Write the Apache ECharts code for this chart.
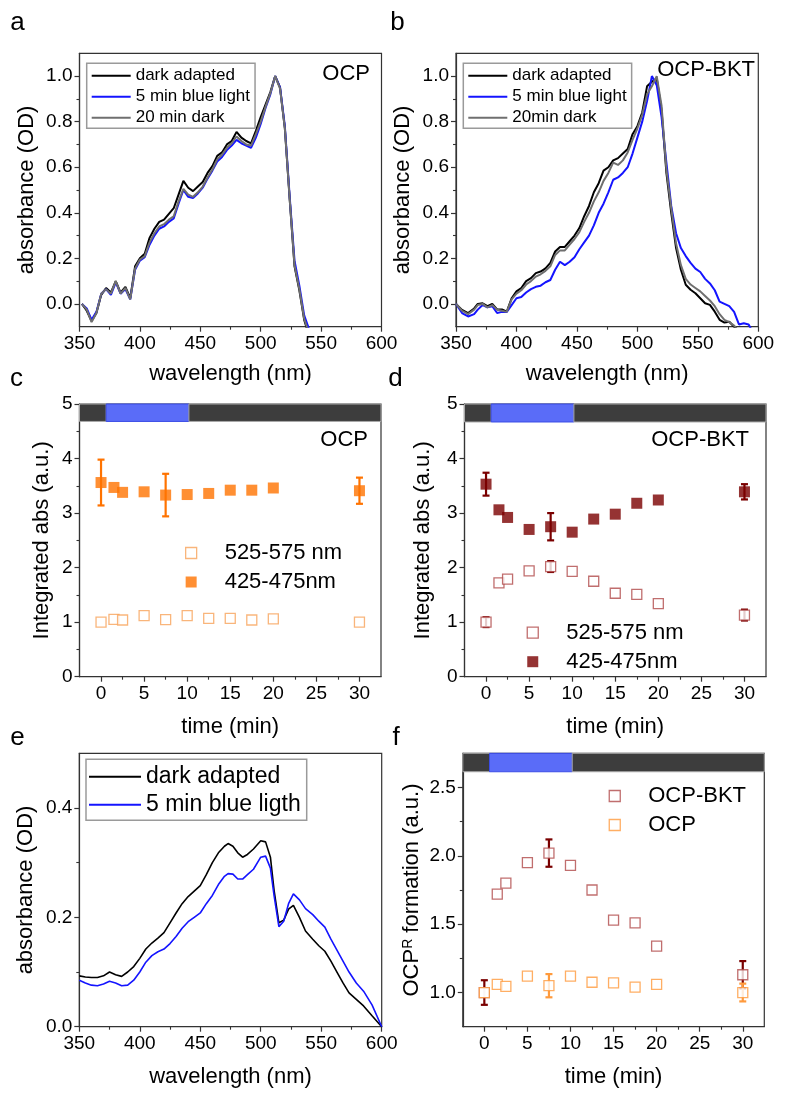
<!DOCTYPE html>
<html><head><meta charset="utf-8">
<script src="https://cdn.jsdelivr.net/npm/echarts@6.0.0/dist/echarts.min.js"></script>
<style>html,body{margin:0;padding:0;background:#fff}#chart{width:800px;height:1102px}</style>
</head><body><div id="chart"></div><script>
// ---------- DATA ----------
// panel a (OCP spectra)
const wlA = [352,356,360,364,368,372,376,380,384,388,392,396,400,404,408,412,416,420,424,428,432,436,440,444,448,452,456,460,464,468,472,476,480,484,488,492,496,500,504,508,512,516,520,524,528,532,536,540];
const aDark = [0.00,-0.03,-0.075,-0.04,0.04,0.07,0.05,0.10,0.05,0.075,0.025,0.165,0.20,0.22,0.29,0.33,0.36,0.37,0.395,0.42,0.48,0.54,0.51,0.495,0.515,0.535,0.575,0.605,0.65,0.665,0.70,0.715,0.755,0.73,0.715,0.705,0.76,0.82,0.875,0.93,1.00,0.95,0.77,0.46,0.165,0.06,-0.07,-0.14];
const aBlue = [0.00,-0.02,-0.07,-0.035,0.045,0.065,0.04,0.095,0.045,0.065,0.02,0.15,0.19,0.205,0.26,0.30,0.33,0.34,0.36,0.375,0.44,0.50,0.47,0.465,0.485,0.51,0.55,0.585,0.625,0.645,0.675,0.695,0.72,0.705,0.695,0.685,0.73,0.79,0.86,0.92,1.00,0.95,0.78,0.47,0.19,0.08,-0.05,-0.11];
const aGray = [0.00,-0.025,-0.08,-0.04,0.045,0.065,0.045,0.10,0.045,0.07,0.02,0.155,0.195,0.21,0.27,0.31,0.34,0.35,0.37,0.385,0.45,0.505,0.48,0.47,0.49,0.515,0.555,0.59,0.635,0.655,0.685,0.705,0.735,0.715,0.70,0.695,0.745,0.80,0.865,0.925,1.00,0.945,0.77,0.46,0.17,0.065,-0.065,-0.13];
// panel b (OCP-BKT spectra)
const wlB = [350,355,360,365,368,372,376,380,384,388,392,396,400,404,408,412,416,420,424,428,432,436,440,444,448,452,456,460,464,468,472,476,480,484,488,492,496,500,504,508,512,516,520,524,528,532,536,540,544,548,552,556,560,564,568,572,576,580,584,588,592,596];
const bDark = [0.0,-0.026,-0.04,-0.02,0.0,0.003,-0.01,0.0,-0.024,-0.024,-0.034,0.025,0.055,0.07,0.10,0.113,0.135,0.142,0.156,0.18,0.23,0.25,0.25,0.275,0.30,0.333,0.385,0.43,0.49,0.53,0.585,0.60,0.63,0.64,0.66,0.68,0.745,0.78,0.84,0.955,0.975,0.99,0.85,0.575,0.40,0.245,0.15,0.084,0.062,0.047,0.025,0.003,-0.004,-0.034,-0.07,-0.082,-0.078,-0.10,-0.12,-0.14,-0.15,-0.16];
const bBlue = [0.0,-0.04,-0.055,-0.045,-0.025,-0.005,-0.015,-0.01,-0.04,-0.035,-0.035,-0.005,0.025,0.03,0.05,0.065,0.075,0.08,0.095,0.105,0.15,0.185,0.17,0.185,0.205,0.24,0.27,0.30,0.345,0.40,0.44,0.49,0.545,0.555,0.575,0.60,0.66,0.73,0.80,0.89,1.0,0.96,0.82,0.62,0.43,0.31,0.245,0.21,0.18,0.155,0.14,0.11,0.09,0.06,0.01,0.0,-0.01,-0.035,-0.09,-0.085,-0.09,-0.13];
const bGray = [0.0,-0.03,-0.045,-0.025,-0.005,0.0,-0.015,-0.005,-0.025,-0.03,-0.035,0.02,0.045,0.06,0.085,0.10,0.12,0.13,0.145,0.165,0.215,0.235,0.235,0.26,0.285,0.315,0.36,0.40,0.45,0.49,0.54,0.575,0.62,0.61,0.63,0.665,0.72,0.77,0.83,0.92,0.955,1.0,0.87,0.59,0.42,0.265,0.17,0.11,0.085,0.07,0.055,0.035,0.015,-0.01,-0.045,-0.07,-0.08,-0.095,-0.12,-0.14,-0.15,-0.16];
// panels c, d, f (time courses)
const times = [0,1.5,2.5,5,7.5,10,12.5,15,17.5,20,30];
const blueLight = [0.6, 10.2];
const cOpen = [1.0,1.05,1.04,1.12,1.045,1.12,1.07,1.07,1.04,1.06,1.0];
const cFilled = [3.56,3.47,3.38,3.39,3.33,3.34,3.36,3.42,3.42,3.46,3.41];
const cFilledErr = [0.42,null,null,null,0.39,null,null,null,null,null,0.24];
const dOpen = [1.0,1.72,1.79,1.94,2.02,1.93,1.75,1.53,1.51,1.34,1.13];
const dOpenErr = [0.09,null,null,null,0.10,null,null,null,null,null,0.10];
const dFilled = [3.53,3.06,2.92,2.70,2.75,2.65,2.89,2.98,3.18,3.24,3.39];
const dFilledErr = [0.21,null,null,null,0.25,null,null,null,null,null,0.14];
const fBkt = [1.0,1.72,1.80,1.95,2.02,1.93,1.75,1.53,1.51,1.34,1.13];
const fBktErr = [0.09,null,null,null,0.10,null,null,null,null,null,0.10];
const fOcp = [1.0,1.06,1.045,1.12,1.05,1.12,1.075,1.07,1.04,1.06,1.0];
const fOcpErr = [null,null,null,null,0.085,null,null,null,null,null,0.065];
// panel e (difference spectra)
const wlE = [350,355,360,365,370,375,380,385,390,395,400,405,410,415,420,425,430,435,440,445,450,455,460,465,470,473,477,481,485,489,494,500,504,508,511,515,519,523,527,532,537,543,548,553,558,563,568,573,579,585,592,600];
const eDark = [0.093,0.091,0.09,0.09,0.093,0.10,0.095,0.092,0.10,0.11,0.125,0.142,0.153,0.162,0.172,0.19,0.208,0.225,0.238,0.248,0.258,0.278,0.30,0.318,0.33,0.335,0.33,0.318,0.31,0.315,0.325,0.34,0.338,0.31,0.25,0.19,0.195,0.215,0.222,0.20,0.175,0.16,0.148,0.138,0.12,0.10,0.08,0.062,0.05,0.038,0.02,0.0];
const eBlue = [0.085,0.08,0.076,0.075,0.078,0.083,0.08,0.075,0.076,0.085,0.10,0.118,0.13,0.137,0.142,0.152,0.165,0.18,0.192,0.20,0.208,0.225,0.24,0.26,0.275,0.28,0.279,0.27,0.27,0.278,0.288,0.31,0.312,0.29,0.24,0.183,0.193,0.225,0.243,0.232,0.216,0.205,0.193,0.182,0.16,0.14,0.12,0.10,0.08,0.065,0.04,0.0];
// tick labels
const wlTicks = [350,400,450,500,550,600];
const wlMinor = [375,425,475,525,575];
const absTicks = [0,0.2,0.4,0.6,0.8,1.0];
const absMinor = [0.1,0.3,0.5,0.7,0.9];
const timeTicks = [0,5,10,15,20,25,30];
const timeMinor = [2.5,7.5,12.5,17.5,22.5,27.5];
const intTicks = [0,1,2,3,4,5];
const intMinor = [0.5,1.5,2.5,3.5,4.5];
const absETicks = [0,0.2,0.4];
const absEMinor = [0.1,0.3];
const fTicks = [1.0,1.5,2.0,2.5];
const fMinor = [1.25,1.75,2.25];

// ---------- STYLE / LAYOUT ----------
const FONT = '"Liberation Sans", Arial, Helvetica, sans-serif';
const AX = '#333';
const C = {black:'#000000', blue:'#1414ff', gray:'#6f6f6f', orange:'#ff7300', orangeOpen:'#f8a25a', fOrange:'#ff9a3c',
           dred:'#7a0000', redOpen:'#b04a4a', stripDark:'#3d3d3d', stripBlue:'#5a6cf8'};
const grids = [
  {left:79.5, top:53.3, width:302, height:273.4},
  {left:456, top:53.3, width:302.3, height:273.4},
  {left:79.5, top:404, width:301.5, height:272.7},
  {left:464.5, top:404, width:301.5, height:272.7},
  {left:79.3, top:753.3, width:302.4, height:273.4},
  {left:462.8, top:753.3, width:301.5, height:273.4}
].map(g => Object.assign({show:true, borderColor:AX, borderWidth:1.2, backgroundColor:'transparent'}, g));

const xAxes = [], yAxes = [];
const f1 = v => v.toFixed(1);
const f0 = v => String(Math.round(v));
function mainAxis(dim, gi, c) {
  return {type:'value', gridIndex:gi, position: dim === 'x' ? 'bottom' : 'left', min:c.min, max:c.max,
    name:c.name, nameLocation:'middle', nameGap:c.gap,
    nameTextStyle:{fontSize:22, fontFamily:FONT, color:'#000', rich:c.rich},
    axisLine:{show:true, onZero:false, lineStyle:{color:AX, width:1.2}},
    axisTick:{show:true, inside:false, length:5, customValues:c.ticks, lineStyle:{color:AX, width:1.2}},
    axisLabel:{show:true, customValues:c.ticks, formatter:c.fmt, fontSize:19, fontFamily:FONT, color:'#000', margin: dim === 'x' ? 8 : 7},
    splitLine:{show:false}, minorTick:{show:false}};
}
function minorAxis(dim, gi, c) {
  return {type:'value', gridIndex:gi, position: dim === 'x' ? 'bottom' : 'left', min:c.min, max:c.max,
    axisLine:{show:false, onZero:false},
    axisTick:{show:true, inside:false, length:3, customValues:c.minor, lineStyle:{color:AX, width:1.1}},
    axisLabel:{show:false}, splitLine:{show:false}};
}
function addAxes(gi, xc, yc) {
  const xi = xAxes.length, yi = yAxes.length;
  xAxes.push(mainAxis('x', gi, xc), minorAxis('x', gi, xc));
  yAxes.push(mainAxis('y', gi, yc), minorAxis('y', gi, yc));
  return [xi, yi];
}
const wlX = gap => ({min:350, max:600, ticks:wlTicks, minor:wlMinor, fmt:f0, name:'wavelength (nm)', gap:gap});
const tX = {min:-2.5, max:32.5, ticks:timeTicks, minor:timeMinor, fmt:f0, name:'time (min)', gap:39};
const ax = [
  addAxes(0, wlX(36), {min:-0.1, max:1.1, ticks:absTicks, minor:absMinor, fmt:f1, name:'absorbance (OD)', gap:42}),
  addAxes(1, wlX(36), {min:-0.1, max:1.1, ticks:absTicks, minor:absMinor, fmt:f1, name:'absorbance (OD)', gap:42}),
  addAxes(2, tX, {min:0, max:5, ticks:intTicks, minor:intMinor, fmt:f0, name:'Integrated abs (a.u.)', gap:27}),
  addAxes(3, tX, {min:0, max:5, ticks:intTicks, minor:intMinor, fmt:f0, name:'Integrated abs (a.u.)', gap:31}),
  addAxes(4, wlX(39), {min:0, max:0.5, ticks:absETicks, minor:absEMinor, fmt:f1, name:'absorbance (OD)', gap:42}),
  addAxes(5, tX, {min:0.75, max:2.75, ticks:fTicks, minor:fMinor, fmt:f1,
    name:'{n|OCP}{s|R}{n| formation (a.u.)}', gap:40,
    rich:{n:{fontSize:22, fontFamily:FONT, color:'#000'}, s:{fontSize:14, fontFamily:FONT, color:'#000', verticalAlign:'top', padding:[0,0,8,0]}}})
];

const series = [];
function lineS(p, name, xs, ys, color, w) {
  series.push({type:'line', name:name, xAxisIndex:ax[p][0], yAxisIndex:ax[p][1], symbol:'none', silent:true,
    data: xs.map((x, i) => [x, ys[i]]), lineStyle:{color:color, width:w}, itemStyle:{color:color}, clip:true, z:2});
}
function scatterS(p, name, ys, color, open) {
  series.push({type:'scatter', name:name, xAxisIndex:ax[p][0], yAxisIndex:ax[p][1], symbol:'rect', silent:true,
    symbolSize: open ? 10 : 11, z:4,
    data: times.map((t, i) => [t, ys[i]]),
    itemStyle: open ? {color:'#fff', borderColor:color, borderWidth:1.3} : {color:color}});
}
function errS(p, ys, errs, color) {
  const d = [];
  times.forEach((t, i) => { if (errs[i] != null) d.push([t, ys[i], errs[i]]); });
  series.push({type:'custom', xAxisIndex:ax[p][0], yAxisIndex:ax[p][1], silent:true, z:3, data:d,
    renderItem: (params, api) => {
      const x = api.value(0), y = api.value(1), e = api.value(2);
      const top = api.coord([x, y + e]), bot = api.coord([x, y - e]);
      const w = 3.5, st = {stroke:color, lineWidth:2.2};
      return {type:'group', children:[
        {type:'line', shape:{x1:top[0], y1:top[1], x2:bot[0], y2:bot[1]}, style:st},
        {type:'line', shape:{x1:top[0]-w, y1:top[1], x2:top[0]+w, y2:top[1]}, style:st},
        {type:'line', shape:{x1:bot[0]-w, y1:bot[1], x2:bot[0]+w, y2:bot[1]}, style:st}]};
    }});
}
function stripS(p, xmin, xmax, y0, y1) {
  const segs = [[xmin, blueLight[0], 0], [blueLight[0], blueLight[1], 1], [blueLight[1], xmax, 0]];
  series.push({type:'custom', xAxisIndex:ax[p][0], yAxisIndex:ax[p][1], silent:true, z:1, data:segs,
    renderItem: (params, api) => {
      const a = api.coord([api.value(0), y1]), b = api.coord([api.value(1), y0]);
      const isBlue = api.value(2) === 1;
      return {type:'rect', shape:{x:a[0], y:a[1], width:b[0]-a[0], height:b[1]-a[1]},
        style:{fill: isBlue ? C.stripBlue : C.stripDark, stroke: isBlue ? '#3b4ce6' : '#a9a9a9', lineWidth:1}};
    }});
}

// a
lineS(0, 'a|dark adapted', wlA, aDark, C.black, 2);
lineS(0, 'a|5 min blue light', wlA, aBlue, C.blue, 2);
lineS(0, 'a|20 min dark', wlA, aGray, C.gray, 2);
// b
lineS(1, 'b|dark adapted', wlB, bDark, C.black, 2);
lineS(1, 'b|5 min blue light', wlB, bBlue, C.blue, 2);
lineS(1, 'b|20min dark', wlB, bGray, C.gray, 2);
// c
stripS(2, -2.5, 32.5, 4.68, 5);
errS(2, cFilled, cFilledErr, C.orange);
scatterS(2, 'c|525-575 nm', cOpen, C.orangeOpen, true);
scatterS(2, 'c|425-475nm', cFilled, C.orange, false);
// d
stripS(3, -2.5, 32.5, 4.67, 5);
errS(3, dFilled, dFilledErr, C.dred);
errS(3, dOpen, dOpenErr, C.dred);
scatterS(3, 'd|525-575 nm', dOpen, C.redOpen, true);
scatterS(3, 'd|425-475nm', dFilled, C.dred, false);
// e
lineS(4, 'e|dark adapted', wlE, eDark, C.black, 1.6);
lineS(4, 'e|5 min blue ligth', wlE, eBlue, C.blue, 1.6);
// f
stripS(5, -2.5, 32.5, 2.615, 2.75);
errS(5, fBkt, fBktErr, C.dred);
errS(5, fOcp, fOcpErr, C.fOrange);
scatterS(5, 'f|OCP-BKT', fBkt, C.redOpen, true);
scatterS(5, 'f|OCP', fOcp, C.fOrange, true);

const fmtName = n => n.split('|')[1];
const SQ = 'path://M0,0L10,0L10,10L0,10Z';
function lineLegend(left, top, names, w, gap, pad, fs) {
  return {show:true, left:left, top:top, orient:'vertical', selectedMode:false, data:names, formatter:fmtName,
    icon:'rect', itemWidth:w, itemHeight:2, itemGap:gap, padding:pad, borderColor:'#9a9a9a', borderWidth:1.5,
    textStyle:{fontFamily:FONT, color:'#000', fontSize:fs}};
}
function symLegend(left, top, names) {
  return {show:true, left:left, top:top, orient:'vertical', selectedMode:false, data:names, formatter:fmtName,
    icon:SQ, symbolKeepAspect:true, itemWidth:57, itemHeight:11, itemGap:7, padding:0,
    itemStyle:{borderWidth:1.3},
    textStyle:{fontFamily:FONT, color:'#000', fontSize:22}};
}
const legends = [
  lineLegend(86.7, 63.3, ['a|dark adapted','a|5 min blue light','a|20 min dark'], 39, 4, [4,5,2,5], 17),
  lineLegend(463.3, 63.3, ['b|dark adapted','b|5 min blue light','b|20min dark'], 39, 4, [4,5,2,5], 17),
  lineLegend(86, 759.3, ['e|dark adapted','e|5 min blue ligth'], 52, 5, [6,6,4,3], 23),
  symLegend(185, 542, ['c|525-575 nm','c|425-475nm']),
  symLegend(526.6, 621.7, ['d|525-575 nm','d|425-475nm']),
  symLegend(608.6, 785, ['f|OCP-BKT','f|OCP'])
];

function txt(t, x, y, size, align) {
  return {type:'text', x:x, y:y, silent:true, z:10,
    style:{text:t, fontSize:size, fontFamily:FONT, fill:'#000', align:align, textAlign:align, verticalAlign:'middle', textVerticalAlign:'middle'}};
}
const graphics = [
  txt('a', 17.5, 23, 26, 'center'), txt('b', 397.5, 23, 26, 'center'),
  txt('c', 16.5, 379, 26, 'center'), txt('d', 395.5, 379, 26, 'center'),
  txt('e', 17.5, 738, 26, 'center'), txt('f', 396, 738, 26, 'center'),
  txt('OCP', 370, 74, 22, 'right'), txt('OCP-BKT', 755, 70, 22, 'right'),
  txt('OCP', 368, 439.5, 22, 'right'), txt('OCP-BKT', 749, 439.5, 22, 'right')
];

const chart = echarts.init(document.getElementById('chart'), null, {renderer:'canvas', width:800, height:1102});
chart.setOption({
  animation:false, backgroundColor:'#fff',
  grid:grids, xAxis:xAxes, yAxis:yAxes, series:series, legend:legends, graphic:graphics
});
</script></body></html>
